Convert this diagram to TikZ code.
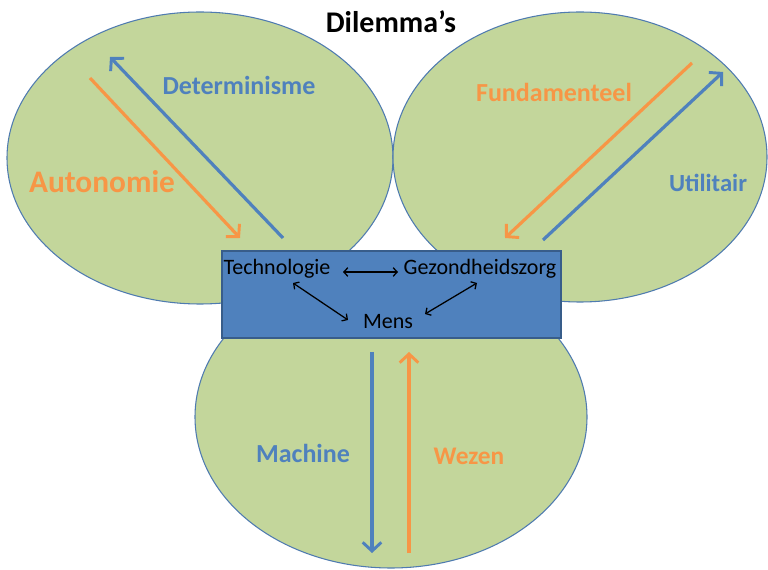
\documentclass[tikz,border=0pt]{standalone}
\usepackage{fontspec}
\setmainfont{Carlito}
\usetikzlibrary{arrows.meta,shapes.geometric}
\definecolor{fillgreen}{HTML}{C3D69B}
\definecolor{edgeblue}{HTML}{4F7BB0}
\definecolor{boxblue}{HTML}{4F81BD}
\definecolor{boxedge}{HTML}{385D8A}
\definecolor{arrblue}{HTML}{4F81BD}
\definecolor{arrorange}{HTML}{F79646}
\begin{document}
\begin{tikzpicture}[x=0.75pt,y=-0.75pt,
  bubble/.style={ellipse, draw=edgeblue, line width=0.8pt, fill=fillgreen, inner sep=0pt},
  centerbox/.style={rectangle, draw=boxedge, line width=0.9pt, fill=boxblue, inner sep=0pt},
  biglabel/.style={font=\bfseries\fontsize{19.5}{22}\selectfont, inner sep=0pt},
  innerlabel/.style={font=\fontsize{16.5}{19}\selectfont, text=black, inner sep=0pt},
  bigarrow/.style={line width=2.4pt, -{Straight Barb[length=6.5pt,width=14pt,line width=2.2pt]}},
  smallarrow/.style={line width=0.95pt, {Straight Barb[length=3pt,width=6.5pt]}-{Straight Barb[length=3pt,width=6.5pt]}}
]
\useasboundingbox (0,0) rectangle (768,570);
% ellipses
\node[bubble, minimum width=289.5pt, minimum height=219pt] (left) at (200,158) {};
\node[bubble, minimum width=280.5pt, minimum height=217.5pt] (right) at (580,157) {};
\node[bubble, minimum width=294pt, minimum height=226.5pt] (bottom) at (391,417) {};
% center box
\node[centerbox, minimum width=254.25pt, minimum height=65.25pt] (box) at (391.5,294.5) {};
% title
\node[font=\bfseries\fontsize{22.5}{26}\selectfont, inner sep=0pt] (title) at (391,22) {Dilemma’s};
% labels
\node[biglabel, text=arrblue] (determ) at (239,85) {Determinisme};
\node[biglabel, text=arrorange, font=\bfseries\fontsize{23.5}{27}\selectfont] (auton) at (102,182) {Autonomie};
\node[biglabel, text=arrorange] (fund) at (554,92) {Fundamenteel};
\node[biglabel, text=arrblue, font=\bfseries\fontsize{18.5}{22}\selectfont] (util) at (708,183) {Utilitair};
\node[biglabel, text=arrblue] (machine) at (303,453) {Machine};
\node[biglabel, text=arrorange, font=\bfseries\fontsize{19}{22}\selectfont] (wezen) at (469,456) {Wezen};
% inner labels
\node[innerlabel] (tech) at (277,269) {Technologie};
\node[innerlabel] (gez) at (480,269) {Gezondheidszorg};
\node[innerlabel] (mens) at (388,322) {Mens};
% arrow end points
\coordinate (lo1) at (90,78);   \coordinate (lo2) at (240,238);
\coordinate (lb1) at (283,238); \coordinate (lb2) at (110,57);
\coordinate (ro1) at (692,63);  \coordinate (ro2) at (505,238);
\coordinate (rb1) at (543,240); \coordinate (rb2) at (723,72);
\coordinate (bb1) at (372,352); \coordinate (bb2) at (372,553);
\coordinate (bo1) at (409,553); \coordinate (bo2) at (409,352);
\draw[bigarrow, arrorange] (lo1) -- (lo2);
\draw[bigarrow, arrblue] (lb1) -- (lb2);
\draw[bigarrow, arrorange] (ro1) -- (ro2);
\draw[bigarrow, arrblue] (rb1) -- (rb2);
\draw[bigarrow, arrblue] (bb1) -- (bb2);
\draw[bigarrow, arrorange] (bo1) -- (bo2);
% inner arrows
\coordinate (tg1) at (343,272); \coordinate (tg2) at (398,272);
\coordinate (tm1) at (293,283); \coordinate (tm2) at (348,320);
\coordinate (gm1) at (477,283); \coordinate (gm2) at (425,314);
\draw[smallarrow] (tg1) -- (tg2);
\draw[smallarrow] (tm1) -- (tm2);
\draw[smallarrow] (gm1) -- (gm2);
\end{tikzpicture}
\end{document}
